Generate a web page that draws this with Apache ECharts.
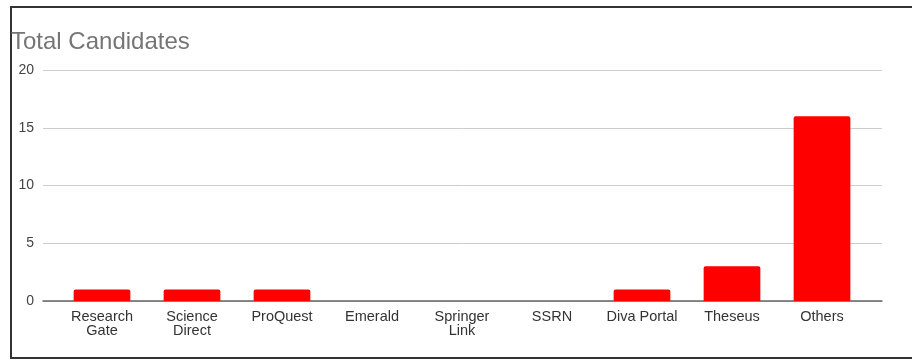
<!DOCTYPE html>
<html>
<head>
<meta charset="utf-8">
<script src="https://cdn.jsdelivr.net/npm/echarts@6/dist/echarts.min.js"></script>
<style>
  html, body { margin: 0; padding: 0; background: #fff; }
  #frame { position: absolute; left: 10px; top: 6px; width: 960px; height: 349px; border: 2px solid #333; box-sizing: content-box; }
  #chart { position: absolute; left: 0; top: 0; width: 912px; height: 360px; }
</style>
</head>
<body>
<div id="frame"></div>
<div id="chart"></div>
<script>
const categories = ["Research\nGate", "Science\nDirect", "ProQuest", "Emerald", "Springer\nLink", "SSRN", "Diva Portal", "Theseus", "Others"];
const candidates = [1, 1, 1, 0, 0, 0, 1, 3, 16];
const yTicks = { min: 0, max: 20, interval: 5 };

const font = 'Liberation Sans, Arial, sans-serif';
const chart = echarts.init(document.getElementById('chart'), null, { renderer: 'canvas' });
chart.setOption({
  animation: false,
  backgroundColor: 'transparent',
  title: {
    text: 'Total Candidates',
    left: 6,
    top: 25,
    textStyle: { fontFamily: font, fontSize: 24, fontWeight: 'normal', color: '#757575' }
  },
  grid: [
    { left: 43, right: 30, top: 70, bottom: 59, containLabel: false },
    { left: 57, right: 45, top: 70, bottom: 59, containLabel: false }
  ],
  xAxis: [
    {
      type: 'category', gridIndex: 0, data: categories,
      axisLine: { show: true, lineStyle: { color: '#666', width: 1.5 } },
      axisTick: { show: false },
      axisLabel: { show: false }
    },
    {
      type: 'category', gridIndex: 1, data: categories,
      axisLine: { show: false },
      axisTick: { show: false },
      axisLabel: { interval: 0, margin: 9, color: '#333', fontSize: 14.5, lineHeight: 14, fontFamily: font }
    }
  ],
  yAxis: [
    {
      type: 'value', gridIndex: 0,
      min: yTicks.min, max: yTicks.max, interval: yTicks.interval,
      axisLine: { show: false }, axisTick: { show: false },
      axisLabel: { color: '#444', fontSize: 14, margin: 9, fontFamily: font },
      splitLine: { lineStyle: { color: '#ccc', width: 1 } }
    },
    {
      type: 'value', gridIndex: 1,
      min: yTicks.min, max: yTicks.max, interval: yTicks.interval,
      show: false, splitLine: { show: false }
    }
  ],
  series: [{
    type: 'bar',
    xAxisIndex: 1,
    yAxisIndex: 1,
    data: candidates,
    barWidth: '63%',
    itemStyle: { color: '#ff0000', borderRadius: [2, 2, 0, 0] }
  }]
});
</script>
</body>
</html>
